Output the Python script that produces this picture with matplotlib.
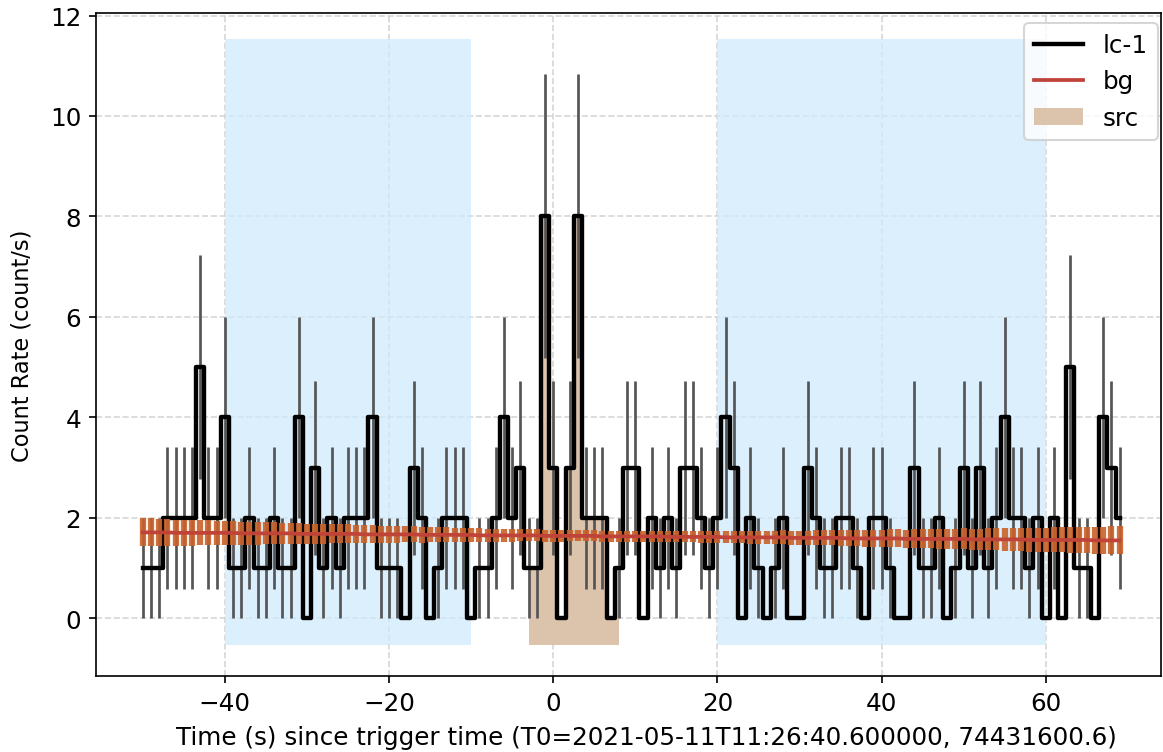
import matplotlib
matplotlib.use('Agg')
import matplotlib.pyplot as plt
import numpy as np

# light curve, 1 s bins
times = list(range(-50, 70))
counts = [1, 1, 1, 2, 2, 2, 2, 5, 2, 2, 4, 1, 1, 2, 1, 1, 2, 1, 1, 4,
          0, 3, 1, 2, 1, 2, 2, 2, 4, 1, 1, 1, 0, 3, 2, 0, 1, 2, 2, 2,
          0, 1, 1, 2, 4, 2, 3, 1, 1, 8, 3, 0, 3, 8, 2, 2, 2, 0, 1, 3,
          3, 0, 2, 1, 2, 1, 3, 3, 2, 1, 2, 4, 3, 0, 2, 1, 0, 1, 2, 0,
          0, 3, 2, 1, 1, 2, 2, 1, 0, 2, 2, 1, 0, 0, 3, 1, 1, 2, 0, 1,
          3, 1, 3, 1, 2, 4, 2, 2, 1, 2, 0, 2, 0, 5, 1, 1, 0, 4, 3, 2]

# background fit and its uncertainty per bin
bg = ([1.71] * 4 + [1.70] * 8 + [1.69] * 7 + [1.68] * 8 + [1.67] * 7 + [1.66] * 7 +
      [1.65] * 8 + [1.64] * 7 + [1.63] * 8 + [1.62] * 7 + [1.61] * 8 + [1.60] * 7 +
      [1.59] * 7 + [1.58] * 8 + [1.57] * 7 + [1.56] * 8 + [1.55] * 4)
bg_err = ([0.28] * 2 + [0.27] * 2 + [0.26] * 3 + [0.25] * 2 + [0.24] * 3 + [0.23] * 3 +
          [0.22] * 2 + [0.21] * 3 + [0.20] * 3 + [0.19] * 3 + [0.18] * 3 + [0.17] * 3 +
          [0.16] * 3 + [0.15] * 3 + [0.14] * 4 + [0.13] * 4 + [0.12] * 6 + [0.11] * 8 +
          [0.11] * 8 + [0.12] * 6 + [0.13] * 4 + [0.14] * 4 + [0.15] * 3 + [0.16] * 3 +
          [0.17] * 3 + [0.18] * 3 + [0.19] * 3 + [0.20] * 3 + [0.21] * 3 + [0.22] * 2 +
          [0.23] * 3 + [0.24] * 3 + [0.25] * 2 + [0.26] * 3 + [0.27] * 2 + [0.28] * 2)

bg_intervals = [(-40, -10), (20, 60)]
src_interval = (-3, 8)
span_low, span_high = -0.54, 11.53

t = np.array(times)
c = np.array(counts)

plt.rcParams['font.size'] = 11.8

fig = plt.figure(figsize=(1163 / 150, 753 / 150), dpi=150)
ax = fig.add_axes([0.0825, 0.1009, 0.9155, 0.8805])

for lo, hi in bg_intervals:
    ax.fill_between([lo, hi], span_low, span_high, color='#cfeafc', alpha=0.75,
                    lw=0, zorder=1)

m = (t >= src_interval[0]) & (t <= src_interval[1])
ax.fill_between(t[m], span_low, c[m], step='mid', color='#dcc3ab', lw=0,
                zorder=2, label='src')

ax.step(t, c, where='mid', color='k', lw=2.1, zorder=4, label='lc-1')
ax.errorbar(t, c, yerr=np.sqrt(c), fmt='none', ecolor='#555555', elinewidth=1.3,
            zorder=3)

ax.errorbar(t, bg, yerr=bg_err, fmt='none', ecolor='#c9622a', elinewidth=3.0,
            alpha=0.9, zorder=5)
ax.plot(t, bg, color='#c0433a', lw=1.8, zorder=6, label='bg')

ax.set_xlim(-55.7, 74)
ax.set_ylim(-1.15, 12.05)
ax.grid(ls='--', color='#cccccc', alpha=0.8, lw=0.8)
ax.set_axisbelow(True)

ax.set_xlabel('Time (s) since trigger time (T0=2021-05-11T11:26:40.600000, 74431600.6)')
ax.xaxis.set_label_coords(0.517, -0.074)
ax.set_ylabel('Count Rate (count/s)', fontsize=10.8, labelpad=8)

h, l = ax.get_legend_handles_labels()
order = [l.index('lc-1'), l.index('bg'), l.index('src')]
ax.legend([h[i] for i in order], [l[i] for i in order], loc='upper right',
          bbox_to_anchor=(1.009, 1.003))

fig.savefig('out.png', dpi=150)
